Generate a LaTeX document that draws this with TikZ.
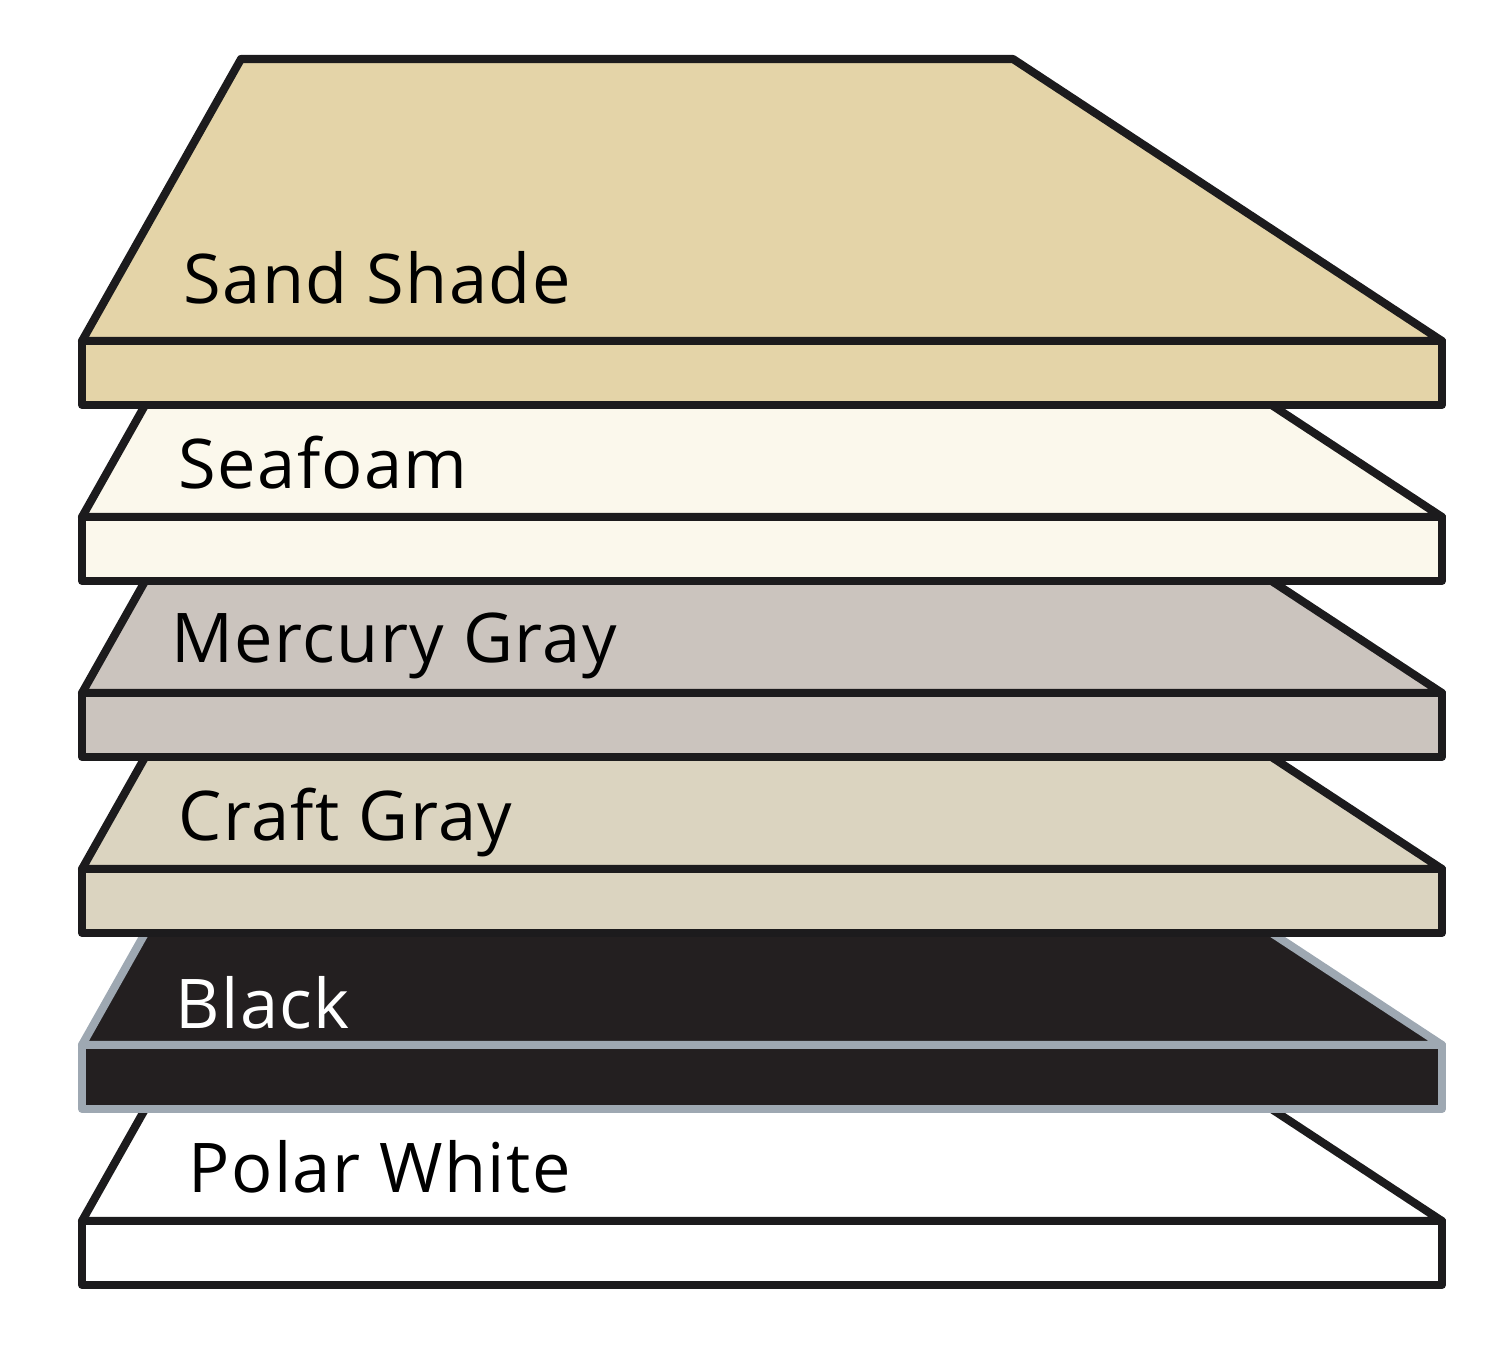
\documentclass[tikz,border=0pt]{standalone}
\usepackage{fontspec}
\setmainfont{Open Sans}[LetterSpace=2]
\definecolor{sand}{RGB}{228,212,168}
\definecolor{seafoam}{RGB}{251,248,236}
\definecolor{mercury}{RGB}{203,196,190}
\definecolor{craft}{RGB}{219,212,192}
\definecolor{blackboard}{RGB}{35,31,32}
\definecolor{edgedark}{RGB}{28,27,29}
\definecolor{edgegray}{RGB}{158,168,178}
\tikzstyle{edge} = [line width=2.3pt, line join=round]
\tikzstyle{lbl} = [anchor=base west, inner sep=0pt, font=\fontsize{19.5}{23}\selectfont]
% one slab: front line y, fill, outline
\newcommand{\slab}[3]{%
  \filldraw[edge, fill=#2, draw=#3] (241,#1-282) -- (1013,#1-282) -- (1442,#1) -- (82,#1) -- cycle;
  \filldraw[edge, fill=#2, draw=#3] (82,#1) rectangle (1442,#1+64);
}

\begin{document}
\begin{tikzpicture}[x=0.01cm, y=-0.01cm]
\useasboundingbox (0,0) rectangle (1500,1363);

%slabs, bottom first
\slab{1221}{white}{edgedark}
\slab{1045}{blackboard}{edgegray}
\slab{869}{craft}{edgedark}
\slab{693}{mercury}{edgedark}
\slab{517}{seafoam}{edgedark}
\slab{341}{sand}{edgedark}

%labels
\node (sandlbl) [lbl] at (183,303) {Sand Shade};
\node (seafoamlbl) [lbl] at (178,488) {Seafoam};
\node (mercurylbl) [lbl] at (171,662) {Mercury Gray};
\node (craftlbl) [lbl] at (178,840) {Craft Gray};
\node (blacklbl) [lbl, text=white] at (175,1028) {Black};
\node (polarlbl) [lbl] at (188,1192) {Polar White};

\end{tikzpicture}
\end{document}
